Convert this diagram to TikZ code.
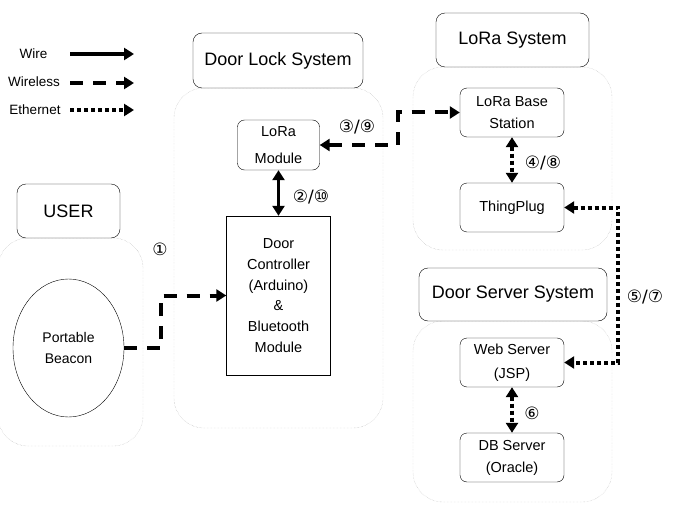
\documentclass[tikz,border=0pt]{standalone}
\usepackage{fontspec}
\setmainfont{Liberation Sans}
\newfontfamily\circfont{DejaVu Sans}
\usetikzlibrary{arrows.meta,shapes.geometric}

\tikzset{
  >={Triangle[length=10pt,width=12pt]},
  titlebox/.style={draw,rounded corners=9pt,fill=white,inner sep=0pt,font=\fontsize{18}{20}\selectfont},
  groupbox/.style={draw=gray!60,densely dotted,rounded corners=30pt,inner sep=0pt},
  unitbox/.style={draw,rounded corners=7pt,fill=white,inner sep=0pt,align=center,font=\fontsize{14.5}{22}\selectfont},
  wireline/.style={line width=3.5pt},
  wlessline/.style={line width=4pt,dash pattern=on 13pt off 10pt},
  etherline/.style={line width=4pt,dash pattern=on 4pt off 3pt},
  legendtext/.style={font=\fontsize{13.5}{15}\selectfont},
  numtag/.style={font=\circfont\fontsize{17}{17}\selectfont}
}

\begin{document}
\begin{tikzpicture}[x=1pt,y=-1pt]
\useasboundingbox (0,0) rectangle (678,519);

\node[legendtext] (lgwire) at (33.5,54) {Wire};
\node[legendtext] (lgwless) at (34,82) {Wireless};
\node[legendtext] (lgether) at (35,110) {Ethernet};
\coordinate (wa) at (70,54);   \coordinate (wb) at (134,54);
\coordinate (la) at (70,83);   \coordinate (lb) at (134,83);
\coordinate (ea) at (70,110);  \coordinate (eb) at (134,110);
\draw[wireline,->] (wa) -- (wb);
\draw[wlessline,->] (la) -- (lb);
\draw[etherline,->] (ea) -- (eb);

\node[groupbox,minimum width=145pt,minimum height=208pt] (usergrp) at (70.5,342) {};
\node[groupbox,minimum width=209pt,minimum height=340pt] (lockgrp) at (278.5,258) {};
\node[groupbox,minimum width=199pt,minimum height=183pt] (loragrp) at (512.5,158.5) {};
\node[groupbox,minimum width=199pt,minimum height=181pt] (servgrp) at (512.5,411.5) {};

\node[titlebox,minimum width=103pt,minimum height=54pt] (usertitle) at (68.5,211) {USER};
\node[titlebox,minimum width=170pt,minimum height=55pt] (locktitle) at (278,60.5) {Door Lock System};
\node[titlebox,minimum width=153pt,minimum height=54pt] (loratitle) at (512.5,40) {LoRa System};
\node[titlebox,minimum width=188pt,minimum height=53pt] (servtitle) at (513,294.5) {Door Server System};

\node[draw,ellipse,inner sep=0pt,align=center,minimum width=111pt,minimum height=138pt,
  font=\fontsize{14}{21}\selectfont] (beacon) at (68.5,348) {Portable\\Beacon};
\node[unitbox,minimum width=82pt,minimum height=50pt,font=\fontsize{14.5}{27}\selectfont] (lora) at (278.5,145) {LoRa\\Module};
\node[draw,fill=white,inner sep=0pt,align=center,minimum width=104pt,minimum height=159pt,
  font=\fontsize{14.5}{20.8}\selectfont] (ctrl) at (278.5,295.5) {Door\\Controller\\(Arduino)\\\&\\Bluetooth\\Module};
\node[unitbox,minimum width=104pt,minimum height=49pt] (base) at (512,112.5) {LoRa Base\\Station};
\node[unitbox,minimum width=104pt,minimum height=49pt] (plug) at (512,207.5) {ThingPlug};
\node[unitbox,minimum width=104pt,minimum height=49pt,font=\fontsize{14.5}{24}\selectfont] (web) at (512,362.5) {Web Server\\(JSP)};
\node[unitbox,minimum width=104pt,minimum height=49pt] (db) at (512,457.5) {DB Server\\(Oracle)};

\draw[wlessline,->] (beacon.east) -- ++(37,0) |- (ctrl.west);
\draw[wireline,<->] (lora.south) -- (ctrl.north);
\draw[wlessline,<->] (lora.east) -- ++(78,0) |- (base.west);
\draw[etherline,<->] (base.south) -- (plug.north);
\draw[etherline,<->] (plug.east) -- ++(54,0) |- (web.east);
\draw[etherline,<->] (web.south) -- (db.north);

\node[numtag] (n1) at (160,249) {①};
\node[numtag] (n2) at (311,197) {②/⑩};
\node[numtag] (n3) at (357,127) {③/⑨};
\node[numtag] (n4) at (543,163) {④/⑧};
\node[numtag] (n5) at (645,297) {⑤/⑦};
\node[numtag] (n6) at (532,413) {⑥};
\end{tikzpicture}
\end{document}
